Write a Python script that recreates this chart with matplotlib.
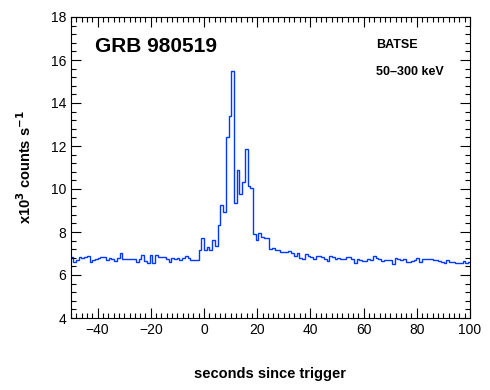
import numpy as np
import matplotlib
matplotlib.use("Agg")
import matplotlib.pyplot as plt
from matplotlib.ticker import MultipleLocator

# ---- data (BATSE 50-300 keV light curve, 1.024 s bins) ----
bin_width = 1.024
first_bin_index = -49          # first bin starts at -49 * 1.024 s
counts_k = [
    6.85, 6.62, 6.70, 6.85, 6.81, 6.84, 6.88, 6.62, 6.72, 6.73,
    6.78, 6.82, 6.82, 6.70, 6.78, 6.73, 6.67, 6.78, 7.01, 6.73,
    6.73, 6.73, 6.73, 6.73, 6.62, 6.73, 6.95, 6.66, 6.55, 6.92,
    6.54, 6.95, 6.86, 6.86, 6.86, 6.73, 6.62, 6.78, 6.73, 6.78,
    6.70, 6.78, 6.88, 6.78, 6.70, 6.70, 6.70, 7.16, 7.71, 7.16,
    7.29, 7.16, 7.63, 7.35, 8.33, 9.26, 8.93, 12.42, 13.40, 15.49,
    9.33, 10.88, 9.75, 10.34, 11.84, 10.14, 10.03, 7.91, 7.63, 7.94,
    7.75, 7.71, 7.71, 7.20, 7.27, 7.16, 7.14, 7.05, 7.05, 7.05,
    7.13, 7.01, 6.88, 7.01, 6.78, 6.74, 6.96, 6.90, 6.85, 6.74,
    6.88, 6.88, 6.85, 6.74, 6.65, 6.88, 6.85, 6.74, 6.80, 6.74,
    6.73, 6.82, 6.82, 6.74, 6.57, 6.74, 6.70, 6.67, 6.67, 6.73,
    6.70, 6.88, 6.80, 6.74, 6.67, 6.70, 6.70, 6.70, 6.51, 6.78,
    6.73, 6.70, 6.74, 6.62, 6.62, 6.67, 6.70, 6.78, 6.62, 6.73,
    6.73, 6.73, 6.74, 6.70, 6.70, 6.67, 6.62, 6.57, 6.70, 6.59,
    6.59, 6.57, 6.57, 6.57, 6.67, 6.54, 6.62,
]
x_ticks = [-40, -20, 0, 20, 40, 60, 80, 100]
y_ticks = [4, 6, 8, 10, 12, 14, 16, 18]

edges = (first_bin_index + np.arange(len(counts_k) + 1)) * bin_width

plt.rcParams['font.family'] = ['Liberation Sans', 'DejaVu Sans']

fig = plt.figure(figsize=(4.9, 3.9), dpi=100)
ax = fig.add_axes([71/490, 1 - 318/390, (470 - 71)/490, (318 - 17)/390])

ax.stairs(counts_k, edges, baseline=None, color='#0038ff', linewidth=1.0)

ax.set_xlim(-50, 100)
ax.set_ylim(4, 18)
ax.set_xticks(x_ticks)
ax.set_yticks(y_ticks)
ax.xaxis.set_minor_locator(MultipleLocator(2))
ax.yaxis.set_minor_locator(MultipleLocator(0.4))
ax.tick_params(which='both', direction='in', top=True, right=True,
               labelsize=10, width=0.8, colors='black')
ax.tick_params(which='major', length=7)
ax.tick_params(which='minor', length=3.5)
for s in ax.spines.values():
    s.set_linewidth(0.8)

ax.set_xlabel('seconds since trigger', fontsize=10.5, fontweight='bold', labelpad=22)
ax.set_ylabel(r'x10$^{\mathbf{3}}$ counts s$^{\mathbf{-1}}$', fontsize=10.5,
              fontweight='bold', labelpad=12)

ax.text(95, 47, 'GRB 980519', transform=None, fontsize=15, fontweight='bold',
        va='center', ha='left') if False else None
fig.text(95/490, 1 - 47/390, 'GRB 980519', fontsize=15, fontweight='bold',
         va='center', ha='left')
fig.text(376/490, 1 - 45/390, 'BATSE', fontsize=9, fontweight='bold',
         va='center', ha='left')
fig.text(376/490, 1 - 72/390, '50\u2013300 keV', fontsize=9, fontweight='bold',
         va='center', ha='left')

fig.savefig('out.png', dpi=100)
